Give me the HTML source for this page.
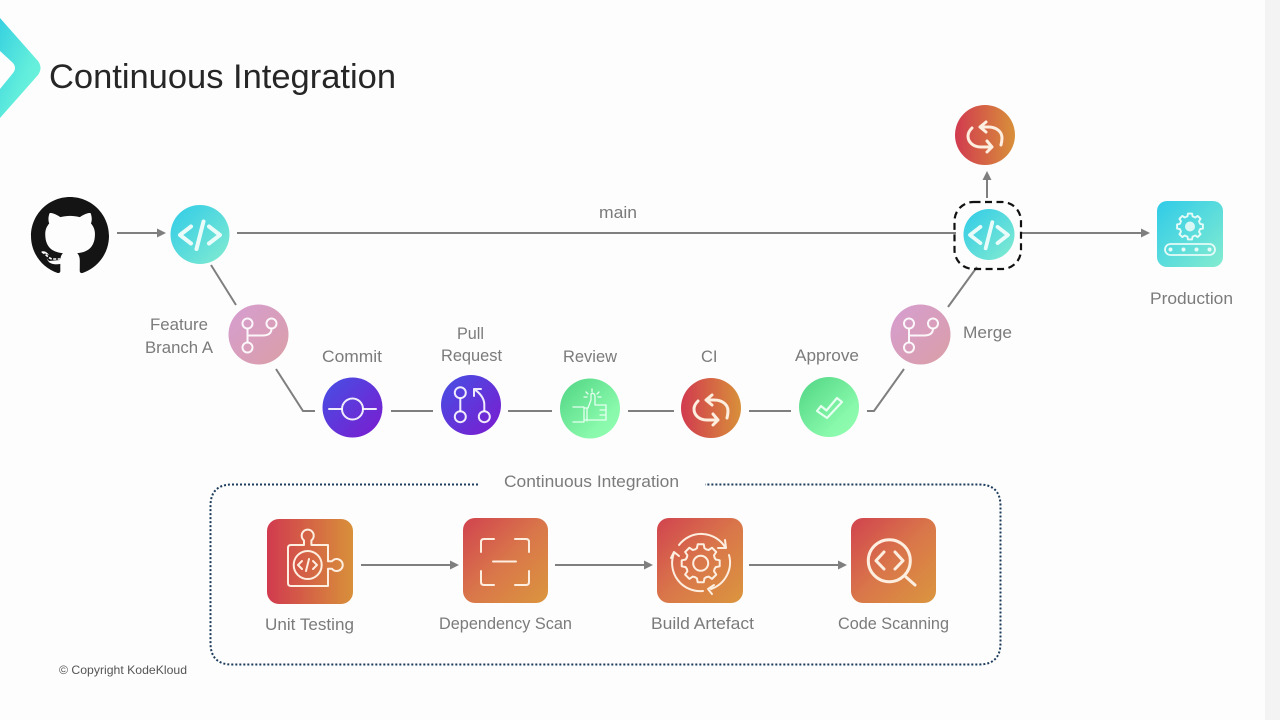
<!DOCTYPE html>
<html><head><meta charset="utf-8"><style>
html,body{margin:0;padding:0;background:#fdfdfd;width:1280px;height:720px;overflow:hidden}
svg{display:block}
text{font-family:"Liberation Sans",sans-serif;fill:#7b7b7b;font-size:16.5px}
.c{stroke:#7f7f7f;stroke-width:2;fill:none}
.i{fill:none;stroke:#fff;stroke-opacity:.9;stroke-width:2;stroke-linecap:round;stroke-linejoin:round}
.o{fill:none;stroke:#fdeee0;stroke-width:2;stroke-linecap:round;stroke-linejoin:round}
.a{fill:#7f7f7f}
</style></head><body>
<svg width="1280" height="720" viewBox="0 0 1280 720" xmlns="http://www.w3.org/2000/svg">
<defs>
<linearGradient id="teal" x1="0" y1="0" x2="1" y2="1"><stop offset="0" stop-color="#2fcbe8"/><stop offset="1" stop-color="#84ecd0"/></linearGradient>
<linearGradient id="logo" x1="0" y1="0" x2="1" y2="1"><stop offset="0" stop-color="#36d0e0"/><stop offset=".6" stop-color="#62eedc"/><stop offset="1" stop-color="#72f6da"/></linearGradient>
<linearGradient id="pink" x1="0" y1="0" x2="1" y2="1"><stop offset="0" stop-color="#d69dd2"/><stop offset="1" stop-color="#da9fa6"/></linearGradient>
<linearGradient id="purple" x1="0" y1="0" x2="1" y2="1"><stop offset="0" stop-color="#4550e4"/><stop offset="1" stop-color="#7c1bcf"/></linearGradient>
<linearGradient id="green" x1="0" y1="0" x2="1" y2="1"><stop offset="0" stop-color="#4ed483"/><stop offset=".7" stop-color="#88f8aa"/><stop offset="1" stop-color="#94ffb4"/></linearGradient>
<linearGradient id="red" x1="0" y1="0" x2="1" y2="0"><stop offset="0" stop-color="#d13a4f"/><stop offset="1" stop-color="#d8903a"/></linearGradient>
<linearGradient id="red2" x1="0" y1="0" x2="1" y2="1"><stop offset="0" stop-color="#d1434f"/><stop offset=".5" stop-color="#d9764a"/><stop offset="1" stop-color="#db963e"/></linearGradient>
<g id="code"><path d="M-9,-8.5 L-20,0 L-9,8.5 M9,-8.5 L20,0 L9,8.5" fill="none" stroke="#eafcfa" stroke-width="4" stroke-linecap="round" stroke-linejoin="round"/><path d="M3.5,-13.5 L-3.5,14" fill="none" stroke="#eafcfa" stroke-width="4" stroke-linecap="round"/></g>
<g id="branch" class="i"><circle cx="-11" cy="-11" r="5"/><circle cx="13" cy="-11" r="5"/><circle cx="-11" cy="13" r="5"/><path d="M-11,-6 V8 M-11,1 H4 Q13,1 13,-6"/></g>
<g id="sync" fill="none" stroke="#fdeee0" stroke-width="3" stroke-linecap="round" stroke-linejoin="round"><path d="M1,-13 L-5,-8 L1,-3 M-5,-8 H3 C12,-8 17,-3 17,3 C17,6 16.5,8 16,10"/><path d="M2,6 L7,12 L2,17 M7,12 H-4 C-12,12 -17,7 -17,1 C-17,-2 -15,-5 -13,-7"/></g>
<g id="tooth"><path d="M-5.74,-13.86 L-3.8,-15 L-3,-19 H3 L3.8,-15 L5.74,-13.86" fill="none" stroke-linejoin="round"/></g>
<g id="gear"><use href="#tooth"/><use href="#tooth" transform="rotate(45)"/><use href="#tooth" transform="rotate(90)"/><use href="#tooth" transform="rotate(135)"/><use href="#tooth" transform="rotate(180)"/><use href="#tooth" transform="rotate(225)"/><use href="#tooth" transform="rotate(270)"/><use href="#tooth" transform="rotate(315)"/></g>
</defs>

<rect x="1265" y="0" width="15" height="720" fill="#f3f3f3"/>

<!-- logo -->
<path d="M0,18 L38,61 Q43,68 38,75 L0,118 V89 L13,73 Q17,68 13,63 L0,51 Z" fill="url(#logo)"/>
<text x="49" y="88" font-size="34" style="font-size:34px;fill:#262626" textLength="347" lengthAdjust="spacingAndGlyphs">Continuous Integration</text>

<!-- github -->
<path transform="translate(31,197) scale(4.875)" fill="#141414" d="M8 0C3.58 0 0 3.58 0 8c0 3.54 2.29 6.53 5.47 7.59.4.07.55-.17.55-.38 0-.19-.01-.82-.01-1.49-2.01.37-2.53-.49-2.69-.94-.09-.23-.48-.94-.82-1.13-.28-.15-.68-.52-.01-.53.63-.01 1.08.58 1.23.82.72 1.21 1.87.87 2.33.66.07-.52.28-.87.51-1.07-1.78-.2-3.64-.89-3.64-3.95 0-.87.31-1.59.82-2.15-.08-.2-.36-1.02.08-2.12 0 0 .67-.21 2.2.82.64-.18 1.32-.27 2-.27.68 0 1.36.09 2 .27 1.53-1.04 2.2-.82 2.2-.82.44 1.1.16 1.92.08 2.12.51.56.82 1.28.82 2.15 0 3.07-1.87 3.75-3.65 3.95.29.25.54.73.54 1.48 0 1.07-.01 1.93-.01 2.2 0 .21.15.46.55.38A8.013 8.013 0 0016 8c0-4.42-3.58-8-8-8z"/>
<path d="M41,252 L49,261 L60,260 L60,257 L49,255 Z" fill="#141414"/>
<path d="M42,252 C46,254 48,258 52,259 L60,259" fill="none" stroke="#fff" stroke-width="1.600" stroke-dasharray="3 1.500"/>

<!-- connectors -->
<path class="c" d="M117,233 H160"/><path class="a" d="M166,233 L157,228.5 V237.500 Z"/>
<path class="c" d="M237,233 H956"/>
<path class="c" d="M211,265 L236,305"/>
<path class="c" d="M276,369 L303,411 H315"/>
<path class="c" d="M391,411 H433 M508,411 H552 M628,411 H674 M749,411 H791"/>
<path class="c" d="M867,411 H874 L904,369"/>
<path class="c" d="M948,307 L977,267"/>
<path class="c" d="M987,198 V178"/><path class="a" d="M987,171 L982.500,180 H991.500 Z"/>
<path class="c" d="M1021,233 H1144"/><path class="a" d="M1150,233 L1141,228.500 V237.500 Z"/>

<!-- code nodes -->
<circle cx="200" cy="234.500" r="29.500" fill="url(#teal)"/><use href="#code" x="200" y="235"/>
<rect x="954.500" y="202" width="66.500" height="67" rx="19" fill="none" stroke="#111" stroke-width="2.200" stroke-dasharray="7 4.500"/>
<circle cx="989" cy="234.500" r="25.500" fill="url(#teal)"/><use href="#code" transform="translate(989,235) scale(.95)"/>

<!-- sync top -->
<circle cx="985" cy="135" r="30" fill="url(#red)"/><use href="#sync" x="985" y="135"/>

<!-- branch nodes -->
<circle cx="258.500" cy="334.500" r="30" fill="url(#pink)"/><use href="#branch" x="258.500" y="334.500"/>
<circle cx="920.500" cy="334.500" r="30" fill="url(#pink)"/><use href="#branch" x="920" y="334.500"/>

<!-- commit -->
<circle cx="352.500" cy="407.500" r="30" fill="url(#purple)"/>
<g class="i"><circle cx="352.500" cy="409" r="10.500"/><path d="M329,409 H342 M363,409 H376"/></g>

<!-- PR -->
<circle cx="471" cy="405" r="30" fill="url(#purple)"/>
<g class="i"><circle cx="460.300" cy="392.700" r="5.500"/><circle cx="460.300" cy="416.700" r="5.500"/><circle cx="484.300" cy="416.700" r="5.500"/><path d="M460.300,398.200 V411.200 M484.300,411 V404 Q484,396 474,389 M474,396 V389 H481"/></g>

<!-- review -->
<circle cx="590" cy="408.500" r="30" fill="url(#green)"/>
<g fill="none" stroke="#e6fff0" stroke-width="1.300" stroke-linecap="round" stroke-linejoin="round"><path d="M573,407 H584 V422 H573 M584,408 H588 L591,400 V394 Q594,392 595,396 V405 H606 V420 H592 L584,420 M587,408 V421 M600,410 H606 M600,415 H606"/><path d="M592,389 V392 M586,392 L588,394 M599,392 L597,394 M584,397 H587 M598,397 H601"/></g>

<!-- CI -->
<circle cx="711" cy="408" r="30" fill="url(#red)"/><use href="#sync" x="711" y="408"/>

<!-- approve -->
<circle cx="829" cy="407" r="30" fill="url(#green)"/>
<path d="M817,411 L821,406 L826.500,410.500 L837,398 L842,402 L827,418 Z" fill="none" stroke="#e6fff0" stroke-width="2.200" stroke-linejoin="round"/>

<!-- production -->
<rect x="1157" y="201" width="66" height="66" rx="10" fill="url(#teal)"/>
<g stroke="#e6fbf7" fill="none" stroke-width="2.800"><use href="#gear" transform="translate(1190,226.500) scale(.68)"/></g>
<circle cx="1190" cy="226.500" r="5" fill="#d9f7f4"/>
<rect x="1165" y="244" width="50" height="11" rx="5.500" fill="none" stroke="#e6fbf7" stroke-width="1.800"/>
<g fill="#e6fbf7"><circle cx="1170.500" cy="249.500" r="2"/><circle cx="1183.500" cy="249.500" r="2"/><circle cx="1196.500" cy="249.500" r="2"/><circle cx="1209.500" cy="249.500" r="2"/></g>

<!-- CI box -->
<path d="M478,484.500 H232 Q210.500,484.500 210.500,506 V643 Q210.500,664.500 232,664.500 H979 Q1000.500,664.500 1000.500,643 V506 Q1000.500,484.500 979,484.500 H705" fill="none" stroke="#1d3c5c" stroke-width="2" stroke-dasharray="2 2"/>

<!-- squares -->
<rect x="267" y="519" width="86" height="85" rx="12" fill="url(#red)"/>
<g class="o"><path d="M291,545 H304 V540.400 A6,6 0 1 1 311.400,540.400 V545 H328 V561.300 H332 A6,6 0 1 1 332,568.700 H328 V586 H291 Q288,586 288,583 V548 Q288,545 291,545 Z"/><circle cx="307.700" cy="565" r="14"/><path d="M302,561 L298,565 L302,569 M313,561 L317,565 L313,569 M309,559 L306,571"/></g>

<rect x="463" y="518" width="85" height="85" rx="12" fill="url(#red2)"/>
<g class="o"><path d="M481,552 V542 Q481,539 484,539 H494 M515,539 H526 Q529,539 529,542 V552 M481,571 V582 Q481,585 484,585 H494 M515,585 H526 Q529,585 529,582 V571 M493,561.500 H516"/></g>

<rect x="657" y="518" width="86" height="85" rx="12" fill="url(#red2)"/>
<g class="o"><use href="#gear" transform="translate(700.700,563.300)"/><circle cx="700.700" cy="563.300" r="7.500"/><path d="M679,545 A28,28 0 0 1 725,547 M725,540 L726,548 L718,548 M729,555 A28,28 0 0 1 711,589 M712,594 L708,589 L714,585 M703,591 A28,28 0 0 1 674,553 M671,558 L674,552 L679,556"/></g>

<rect x="851" y="518" width="85" height="85" rx="12" fill="url(#red2)"/>
<g class="o" style="stroke-width:3"><circle cx="889.300" cy="560.700" r="21"/><path d="M906,577 L915,585 M884,552 L876,560.700 L884,569 M895,552 L903,560.700 L895,569"/></g>

<path class="c" d="M361,565 H454 M555,565 H648 M749,565 H842"/>
<path class="a" d="M459,565 L450,560.500 V569.500 Z M653,565 L644,560.500 V569.500 Z M847,565 L838,560.500 V569.500 Z"/>

<!-- labels -->
<text x="599" y="218" textLength="38" lengthAdjust="spacingAndGlyphs">main</text>
<text x="150" y="330" textLength="58" lengthAdjust="spacingAndGlyphs">Feature</text>
<text x="145" y="353" textLength="68" lengthAdjust="spacingAndGlyphs">Branch A</text>
<text x="322" y="362" textLength="60" lengthAdjust="spacingAndGlyphs">Commit</text>
<text x="457" y="339" textLength="27" lengthAdjust="spacingAndGlyphs">Pull</text>
<text x="441" y="361" textLength="61" lengthAdjust="spacingAndGlyphs">Request</text>
<text x="563" y="362" textLength="54" lengthAdjust="spacingAndGlyphs">Review</text>
<text x="701" y="362">CI</text>
<text x="795" y="361" textLength="64" lengthAdjust="spacingAndGlyphs">Approve</text>
<text x="963" y="338" textLength="49" lengthAdjust="spacingAndGlyphs">Merge</text>
<text x="1150" y="304" textLength="83" lengthAdjust="spacingAndGlyphs">Production</text>
<text x="504" y="487" textLength="175" lengthAdjust="spacingAndGlyphs">Continuous Integration</text>
<text x="265" y="630" textLength="89" lengthAdjust="spacingAndGlyphs">Unit Testing</text>
<text x="439" y="629" textLength="133" lengthAdjust="spacingAndGlyphs">Dependency Scan</text>
<text x="651" y="629" textLength="103" lengthAdjust="spacingAndGlyphs">Build Artefact</text>
<text x="838" y="629" textLength="111" lengthAdjust="spacingAndGlyphs">Code Scanning</text>
<text x="59" y="674" style="font-size:12px;fill:#555" textLength="128" lengthAdjust="spacingAndGlyphs">© Copyright KodeKloud</text>
</svg>
</body></html>
